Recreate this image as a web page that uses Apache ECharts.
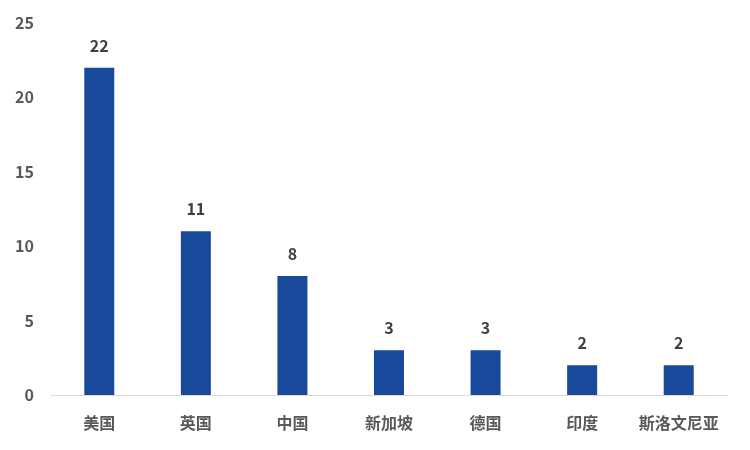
<!DOCTYPE html>
<html>
<head>
<meta charset="utf-8">
<script src="https://cdn.jsdelivr.net/npm/echarts@6/dist/echarts.min.js"></script>
<style>
    html, body { margin: 0; padding: 0; background: #fff; }
    #chart { width: 750px; height: 450px; }
</style>
</head>
<body>
<div id="chart"></div>
<script>
    var countries = ['美国', '英国', '中国', '新加坡', '德国', '印度', '斯洛文尼亚'];
    var counts = [22, 11, 8, 3, 3, 2, 2];
    var yTicks = [0, 5, 10, 15, 20, 25];

    var chart = echarts.init(document.getElementById('chart'));
    var option = {
        animation: false,
        textStyle: {
            fontFamily: '"Noto Sans CJK SC", "Noto Sans", sans-serif'
        },
        grid: {
            left: 51,
            right: 23,
            top: 23,
            bottom: 55
        },
        xAxis: {
            type: 'category',
            data: countries,
            axisTick: { show: false },
            axisLine: {
                lineStyle: { color: '#d9d9d9', width: 1 }
            },
            axisLabel: {
                interval: 0,
                color: '#595959',
                fontSize: 16,
                fontWeight: 'bold',
                margin: 20
            }
        },
        yAxis: {
            type: 'value',
            min: yTicks[0],
            max: yTicks[yTicks.length - 1],
            interval: 5,
            splitLine: { show: false },
            axisLine: { show: false },
            axisTick: { show: false },
            axisLabel: {
                color: '#595959',
                fontSize: 16,
                fontWeight: 'bold',
                margin: 17
            }
        },
        series: [
            {
                type: 'bar',
                data: counts,
                barWidth: 30,
                itemStyle: { color: '#18499b' },
                label: {
                    show: true,
                    position: 'top',
                    distance: 14,
                    color: '#404040',
                    fontSize: 16,
                    fontWeight: 'bold'
                }
            }
        ]
    };
    chart.setOption(option);
</script>
</body>
</html>
